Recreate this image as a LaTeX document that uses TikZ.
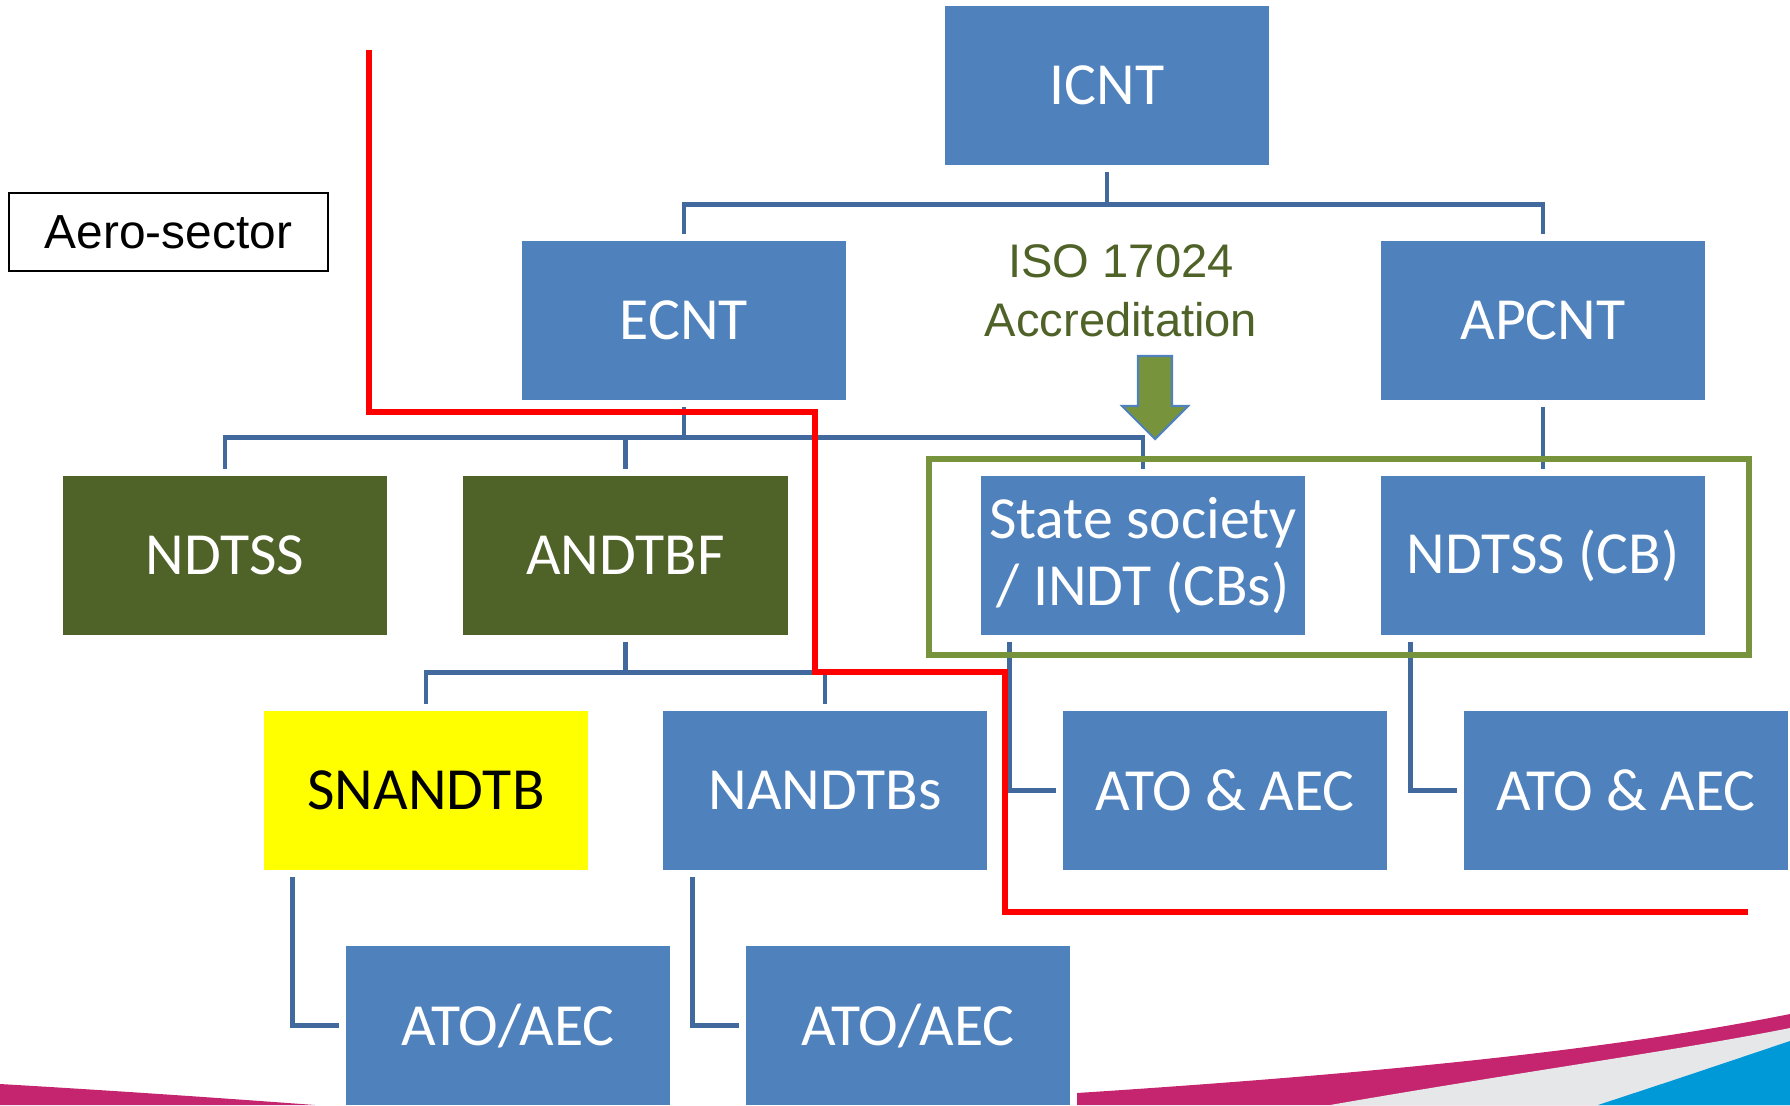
\documentclass[tikz,border=0pt]{standalone}
\usepackage{fontspec}
\setmainfont{Carlito}
\newfontfamily\arialfont{Liberation Sans}
\usepackage{tikz}
\usetikzlibrary{calc}
\definecolor{boxblue}{HTML}{4F81BD}
\definecolor{linkblue}{HTML}{41699D}
\definecolor{boxgreen}{HTML}{4F6228}
\definecolor{framegreen}{HTML}{77933C}
\definecolor{hiyellow}{RGB}{255,255,0}
\definecolor{swoopmag}{HTML}{C5256E}
\definecolor{swoopgrey}{HTML}{E6E7E8}
\definecolor{swoopblue}{HTML}{0099D8}

\begin{document}
\begin{tikzpicture}[x=0.01cm,y=-0.01cm,font=\fontsize{17}{19.2}\selectfont]
    \tikzstyle{unit}=[rectangle,fill=boxblue,text=white,minimum width=3.24cm,minimum height=1.59cm,inner sep=0,align=center]
    \tikzstyle{body}=[unit,fill=boxgreen]
    \tikzstyle{link}=[linkblue,line width=1.4pt,shorten <=0.06cm,shorten >=0.06cm]
    \useasboundingbox (0,0) rectangle (1790,1105);

    % swooshes at the bottom
    \fill[swoopmag] (0,1084) .. controls (120,1091) and (220,1098) .. (315,1105) -- (0,1105) -- cycle;
    \fill[swoopmag] (1077,1105) -- (1077,1093) .. controls (1400,1072) and (1620,1048) .. (1790,1014) -- (1790,1105) -- cycle;
    \fill[swoopgrey] (1330,1105) .. controls (1520,1072) and (1680,1050) .. (1790,1028) -- (1790,1105) -- cycle;
    \fill[swoopblue] (1598,1105) .. controls (1680,1078) .. (1790,1041) -- (1790,1105) -- cycle;

    \node[unit] (icnt) at (1107,85.5) {ICNT};
    \node[unit] (ecnt) at (684,320.5) {ECNT};
    \node[unit] (apcnt) at (1543,320.5) {APCNT};
    \node[body] (ndtss) at (225,555.5) {NDTSS};
    \node[body] (andtbf) at (625.5,555.5) {ANDTBF};
    \node[unit] (state) at (1143,555.5) {State society\\/ INDT (CBs)};
    \node[unit] (ndtsscb) at (1543,555.5) {NDTSS (CB)};
    \node[unit,fill=hiyellow,text=black] (snandtb) at (426,790.5) {SNANDTB};
    \node[unit] (nandtbs) at (825,790.5) {NANDTBs};
    \node[unit] (ato1) at (1225,790.5) {ATO \& AEC};
    \node[unit] (ato2) at (1626,790.5) {ATO \& AEC};
    \node[unit] (atoaec1) at (508,1025.5) {ATO/AEC};
    \node[unit] (atoaec2) at (908,1025.5) {ATO/AEC};

    \node[draw,line width=0.6pt,inner sep=0,minimum width=3.19cm,minimum height=0.78cm,font=\arialfont\fontsize{13.6}{16}\selectfont] (aero) at (168.5,232) {Aero-sector};
    \node[text=boxgreen,align=center,inner sep=0,font=\arialfont\fontsize{13.4}{16.8}\selectfont] (iso) at (1121,291) {ISO 17024\\Accreditation};

    % tree links
    \draw[link] (icnt.south) -- ++(0,39) -| (ecnt.north);
    \draw[link] (icnt.south) -- ++(0,39) -| (apcnt.north);
    \draw[link] (ecnt.south) -- ++(0,37) -| (ndtss.north);
    \draw[link] (ecnt.south) -- ++(0,37) -| (andtbf.north);
    \draw[link] (ecnt.south) -- ++(0,37) -| (state.north);
    \draw[link] (apcnt.south) -- (ndtsscb.north);
    \draw[link] (andtbf.south) -- ++(0,37) -| (snandtb.north);
    \draw[link] (andtbf.south) -- ++(0,37) -| (nandtbs.north);
    \draw[link] ($(state.south west)+(29,0)$) |- (ato1.west);
    \draw[link] ($(ndtsscb.south west)+(30,0)$) |- (ato2.west);
    \draw[link] ($(snandtb.south west)+(29,0)$) |- (atoaec1.west);
    \draw[link] ($(nandtbs.south west)+(30,0)$) |- (atoaec2.west);

    % accreditation frame and arrow
    \draw[framegreen,line width=1.7pt] (929,459) rectangle (1749,655);
    \filldraw[fill=framegreen,draw=boxblue,line width=0.6pt] (1138,356) -- (1172,356) -- (1172,406) -- (1188,406) -- (1155,439) -- (1122,406) -- (1138,406) -- cycle;

    % aero-sector border
    \draw[red,line width=1.7pt] (369,50) |- (815,412) |- (1005,672) |- (1748,912);
\end{tikzpicture}
\end{document}
